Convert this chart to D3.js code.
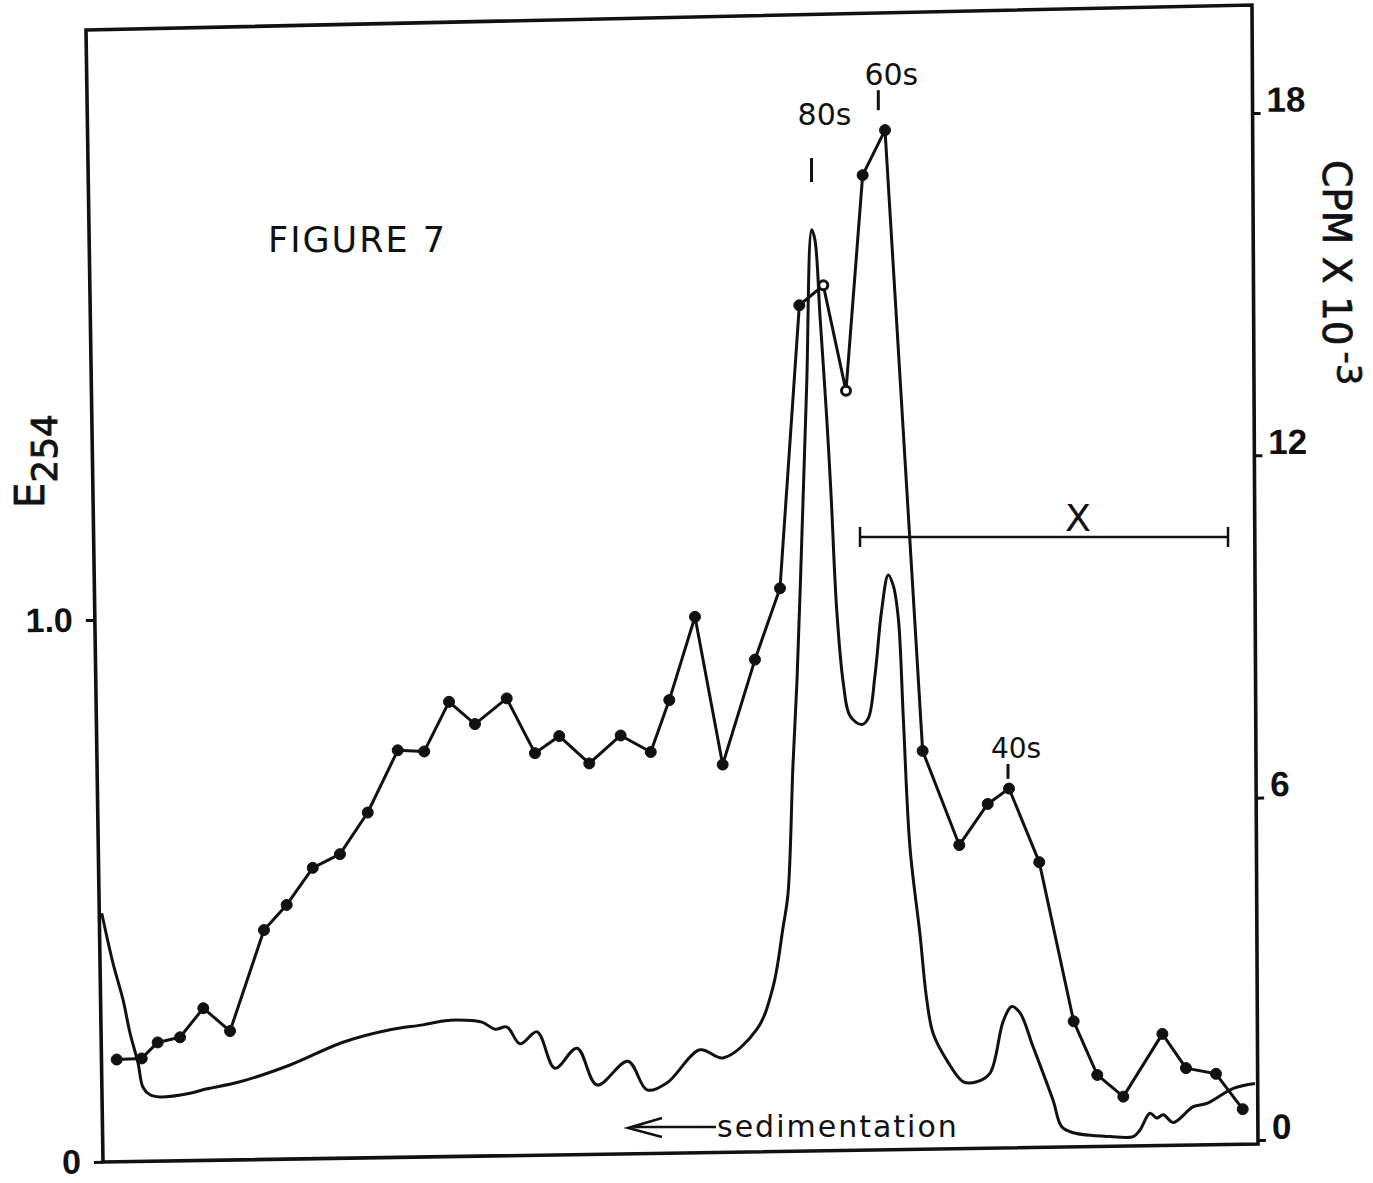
<!DOCTYPE html>
<html>
<head>
<meta charset="utf-8">
<script src="https://cdn.jsdelivr.net/npm/d3@7"></script>
<style>
  html, body { margin: 0; padding: 0; background: #ffffff; }
  svg { display: block; }
</style>
</head>
<body>
<svg id="chart" width="1373" height="1183"></svg>
<script>
// ---------------- DATA ----------------
// Position along the gradient (0 = left edge of frame, 100 = right edge)
const ePos = [0.41,1.38,2.25,2.85,3.54,3.97,4.58,5.44,8.03,9.50,
  12.35,16.67,21.24,25.30,28.15,29.88,31.09,33.25,34.37,35.41,
  36.53,38.00,39.55,41.45,43.18,45.85,47.50,49.22,52.07,54.06,
  56.99,58.38,59.24,59.67,60.10,60.45,60.97,61.29,61.72,62.00,
  62.44,63.01,63.39,63.88,64.45,65.03,66.04,66.61,67.19,67.76,
  68.33,68.77,69.20,69.63,70.21,71.07,71.65,72.22,73.38,74.81,
  75.97,77.12,78.26,78.99,79.71,80.83,82.56,83.31,84.31,87.48,
  89.49,90.07,90.93,91.51,92.08,92.94,94.67,95.83,98.13,100.0];
// Absorbance E254 (continuous trace)
const eValues = [0.459,0.367,0.299,0.238,0.183,0.138,0.124,0.120,0.127,0.135,
  0.148,0.179,0.221,0.244,0.253,0.260,0.262,0.258,0.245,0.249,
  0.218,0.240,0.173,0.210,0.142,0.186,0.133,0.146,0.207,0.192,
  0.245,0.323,0.432,0.494,0.732,0.889,1.221,1.437,1.720,1.701,
  1.559,1.375,1.231,1.018,0.883,0.823,0.807,0.819,0.899,1.018,
  1.083,1.063,1.003,0.819,0.579,0.420,0.300,0.236,0.188,0.148,
  0.148,0.164,0.260,0.287,0.275,0.213,0.114,0.065,0.054,0.047,
  0.047,0.059,0.090,0.081,0.087,0.073,0.102,0.108,0.136,0.145];

// Radioactivity fractions (CPM x 10^-3)
const cpmPos = [1.70,3.86,5.24,7.17,9.18,11.49,14.42,16.38,18.63,20.98,
  23.38,25.97,28.26,30.40,32.64,35.38,37.82,39.92,42.51,45.22,
  47.82,49.42,51.64,54.03,56.82,58.98,60.65,62.72,64.68,66.12,
  68.05,71.30,74.46,76.92,78.76,81.37,84.34,86.38,88.63,92.00,
  94.04,96.63,98.94];
const cpmValues = [1.41,1.43,1.71,1.80,2.31,1.91,3.68,4.12,4.77,5.01,
  5.74,6.83,6.81,7.68,7.29,7.74,6.78,7.08,6.60,7.09,
  6.80,7.71,9.17,6.58,8.42,9.67,14.63,14.98,13.13,16.91,
  17.70,6.82,5.17,5.89,6.16,4.87,2.08,1.14,0.76,1.86,
  1.26,1.16,0.54];
const cpmHollow = [28, 29]; // 1-based fraction numbers drawn as open circles

// Axis ticks
const eTicks = [0, 1.0];
const eTickLabels = ["0", "1.0"];
const cpmTicks = [0, 6, 12, 18];
const cpmTickLabels = ["0", "6", "12", "18"];

// Peak annotations
const peakLabels = ["80s", "60s", "40s"];
const peakPos = [61.70, 67.47, 78.67];
const peakTickTop = [17.21, 18.40, 6.59];
const peakTickBottom = [16.79, 18.05, 6.33];
const peakTextBase = [17.79, 18.49, 6.69];

// Bracket (range bar) in CPM coordinates
const barFrom = 65.89, barTo = 97.67, barLevel = 10.57;

// ---------------- CHART ----------------
const svg = d3.select("#chart");
svg.append("rect").attr("width", 1373).attr("height", 1183).attr("fill", "#fff");

const x = d3.scaleLinear().domain([0, 100]).range([97, 1255]);
const yE = d3.scaleLinear().domain([0, 1]).range([1162, 620]);
const yC = d3.scaleLinear().domain([0, 18]).range([1140, 113]);

const ink = "#111";

// Frame (slightly skewed like the scanned original)
const frameCorners = [[86, 30], [1252, 5], [1258, 1144], [103, 1162]];
svg.append("path")
  .attr("d", d3.line()(frameCorners) + "Z")
  .attr("fill", "none").attr("stroke", ink)
  .attr("stroke-width", 3.6).attr("stroke-linejoin", "miter");

// Left axis (E254)
const leftAxis = svg.append("g")
  .attr("transform", "translate(85.55,0) rotate(-0.86)")
  .call(d3.axisLeft(yE).tickValues(eTicks)
    .tickFormat((d, i) => eTickLabels[i])
    .tickSizeInner(9).tickSizeOuter(0).tickPadding(13));
leftAxis.select(".domain").remove();
leftAxis.selectAll(".tick line").attr("stroke", ink).attr("stroke-width", 3);
leftAxis.selectAll(".tick text")
  .attr("fill", ink)
  .style("font-family", "'Liberation Sans', Arial, sans-serif")
  .style("font-weight", "bold")
  .style("font-size", "34px");

// Right axis (CPM x 10^-3)
const rightAxis = svg.append("g")
  .attr("transform", "translate(1251.97,0) rotate(-0.30)")
  .call(d3.axisRight(yC).tickValues(cpmTicks)
    .tickFormat((d, i) => cpmTickLabels[i])
    .tickSizeInner(8).tickSizeOuter(0).tickPadding(6));
rightAxis.select(".domain").remove();
rightAxis.selectAll(".tick line").attr("stroke", ink).attr("stroke-width", 3);
rightAxis.selectAll(".tick text")
  .attr("fill", ink)
  .attr("dy", "-0.05em")
  .style("font-family", "'Liberation Sans', Arial, sans-serif")
  .style("font-weight", "bold")
  .style("font-size", "35px");

// Axis titles
const eTitle = svg.append("text")
  .attr("transform", "translate(44,508) rotate(-90)")
  .attr("fill", ink).attr("stroke", ink).attr("stroke-width", 0.8)
  .style("font-family", "'DejaVu Sans', sans-serif")
  .style("font-size", "40px");
eTitle.append("tspan").text("E");
eTitle.append("tspan").attr("dy", 13).style("font-size", "36px").text("254");

const cTitle = svg.append("text")
  .attr("transform", "translate(1323,160) rotate(90)")
  .attr("fill", ink).attr("stroke", ink).attr("stroke-width", 0.7)
  .style("font-family", "'DejaVu Sans', sans-serif")
  .style("font-size", "39px");
cTitle.append("tspan").text("CPM X 10");
cTitle.append("tspan").attr("dx", 6).attr("dy", -14).style("font-size", "34px").text("-3");

// Figure title
svg.append("text")
  .attr("x", 268).attr("y", 252)
  .attr("fill", ink)
  .style("font-family", "'DejaVu Sans', sans-serif")
  .style("font-size", "35px")
  .style("letter-spacing", "2px")
  .text("FIGURE 7");

// E254 trace
svg.append("path")
  .datum(d3.zip(ePos, eValues))
  .attr("d", d3.line().x(d => x(d[0])).y(d => yE(d[1])).curve(d3.curveCatmullRom.alpha(0.5)))
  .attr("fill", "none").attr("stroke", ink)
  .attr("stroke-width", 3).attr("stroke-linejoin", "round");

// CPM line + markers
const cpmData = d3.zip(cpmPos, cpmValues).map((d, i) => ({ p: d[0], v: d[1], n: i + 1 }));
svg.append("path")
  .datum(cpmData)
  .attr("d", d3.line().x(d => x(d.p)).y(d => yC(d.v)))
  .attr("fill", "none").attr("stroke", ink)
  .attr("stroke-width", 3).attr("stroke-linejoin", "round");
svg.append("g").selectAll("circle")
  .data(cpmData)
  .join("circle")
  .attr("cx", d => x(d.p)).attr("cy", d => yC(d.v))
  .attr("r", d => cpmHollow.includes(d.n) ? 4.5 : 5.5)
  .attr("fill", d => cpmHollow.includes(d.n) ? "#fff" : ink)
  .attr("stroke", ink)
  .attr("stroke-width", d => cpmHollow.includes(d.n) ? 3 : 1);

// Peak annotations
const peakDx = [13, 13, 8];
const peakSize = [30, 30, 28];
peakLabels.forEach((lab, i) => {
  svg.append("line")
    .attr("x1", x(peakPos[i])).attr("x2", x(peakPos[i]))
    .attr("y1", yC(peakTickTop[i])).attr("y2", yC(peakTickBottom[i]))
    .attr("stroke", ink).attr("stroke-width", 3);
  svg.append("text")
    .attr("x", x(peakPos[i]) + peakDx[i]).attr("y", yC(peakTextBase[i]))
    .attr("text-anchor", "middle").attr("fill", ink)
    .style("font-family", "'DejaVu Sans', sans-serif")
    .style("font-size", peakSize[i] + "px")
    .text(lab);
});

// Range bracket with X
const barY = yC(barLevel);
svg.append("line")
  .attr("x1", x(barFrom)).attr("x2", x(barTo)).attr("y1", barY).attr("y2", barY)
  .attr("stroke", ink).attr("stroke-width", 2.5);
[barFrom, barTo].forEach(b => {
  svg.append("line")
    .attr("x1", x(b)).attr("x2", x(b)).attr("y1", barY - 10).attr("y2", barY + 10)
    .attr("stroke", ink).attr("stroke-width", 2.5);
});
svg.append("text")
  .attr("x", 1078).attr("y", 531)
  .attr("text-anchor", "middle").attr("fill", ink)
  .style("font-family", "'DejaVu Sans', sans-serif")
  .style("font-size", "38px")
  .text("X");

// Sedimentation arrow
svg.append("path")
  .attr("d", "M662,1118 L628,1128 L662,1137 M634,1127 L716,1127")
  .attr("fill", "none").attr("stroke", ink).attr("stroke-width", 2.5)
  .attr("stroke-linejoin", "miter");
svg.append("text")
  .attr("x", 717).attr("y", 1137)
  .attr("fill", ink)
  .style("font-family", "'DejaVu Sans', sans-serif")
  .style("font-size", "30px")
  .style("letter-spacing", "2px")
  .text("sedimentation");
</script>
</body>
</html>
